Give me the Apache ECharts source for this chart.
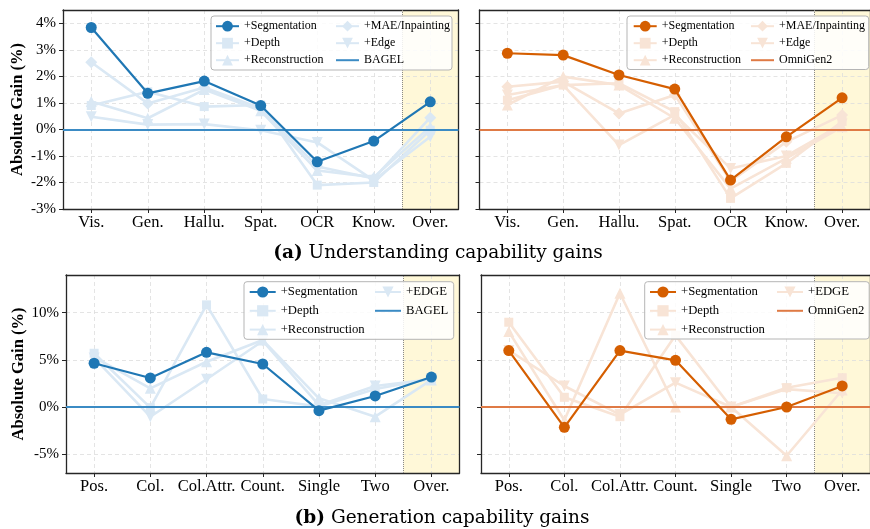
<!DOCTYPE html>
<html><head><meta charset="utf-8">
<script src="https://cdn.jsdelivr.net/npm/echarts@6/dist/echarts.min.js"></script>
<style>html,body{margin:0;padding:0;background:#fff}#c{width:870px;height:529px}</style>
</head><body><div id="c"></div>
<script>
// ---------- data ----------
const undCategories = ['Vis.', 'Gen.', 'Hallu.', 'Spat.', 'OCR', 'Know.', 'Over.'];
const genCategories = ['Pos.', 'Col.', 'Col.Attr.', 'Count.', 'Single', 'Two', 'Over.'];
const undYTicks = [-3, -2, -1, 0, 1, 2, 3, 4];
const genYTicks = [-5, 0, 5, 10];

// BAGEL - understanding
const bagelUndSeg   = [3.84, 1.36, 1.82, 0.90, -1.22, -0.44, 1.04];
const bagelUndDepth = [0.90, 1.42, 0.86, 0.92, -2.10, -2.00, -0.03];
const bagelUndRecon = [1.05, 0.42, 1.50, 0.70, -1.55, -1.80, 0.10];
const bagelUndMae   = [2.53, 0.98, 1.58, 0.80, -1.40, -1.85, 0.44];
const bagelUndEdge  = [0.48, 0.18, 0.20, -0.03, -0.49, -1.92, -0.28];
// OmniGen2 - understanding
const omniUndSeg   = [2.87, 2.80, 2.05, 1.52, -1.91, -0.28, 1.19];
const omniUndDepth = [1.10, 1.67, 1.74, 0.67, -2.60, -1.28, 0.30];
const omniUndRecon = [0.92, 1.99, 1.67, 0.42, -2.23, -1.09, 0.10];
const omniUndMae   = [1.61, 1.80, 0.60, 1.30, -1.95, -0.47, 0.54];
const omniUndEdge  = [1.30, 1.67, -0.59, 0.55, -1.47, -1.00, 0.20];
// BAGEL - generation
const bagelGenSeg   = [4.64, 3.08, 5.80, 4.56, -0.39, 1.17, 3.18];
const bagelGenDepth = [5.70, -0.07, 10.83, 0.85, 0.05, 1.90, 3.00];
const bagelGenRecon = [5.30, 1.98, 4.80, 7.10, 0.92, -1.03, 2.87];
const bagelGenEdge  = [5.20, -1.03, 2.94, 7.00, 0.20, 2.23, 2.95];
// OmniGen2 - generation
const omniGenSeg   = [5.98, -2.16, 5.98, 4.95, -1.31, 0.00, 2.23];
const omniGenDepth = [8.99, 1.03, -1.03, 7.60, 0.00, 2.05, 3.11];
const omniGenRecon = [8.00, -1.40, 12.07, 0.00, 0.00, -5.17, 1.80];
const omniGenEdge  = [6.00, 2.23, -0.80, 2.58, 0.00, 1.90, 1.45];

// ---------- styles ----------
const FONT = 'Liberation Serif';
const CAPFONT = 'DejaVu Serif';
const FRAME = '#262626';
const GRIDC = '#dddddd';
const SHADE = '#fff8d8';
const BLUE = {dark: '#1f77b4', light: '#dae8f4', base: '#3b8bc4'};
const ORANGE = {dark: '#d55e00', light: '#f8e4d6', base: '#df7a45'};

const MARK = {
  '+Segmentation':   {symbol: 'circle',   size: 11, rotate: 0},
  '+Depth':          {symbol: 'rect',     size: 9,  rotate: 0},
  '+Reconstruction': {symbol: 'triangle', size: 11, rotate: 0},
  '+MAE/Inpainting': {symbol: 'diamond',  size: 12, rotate: 0},
  '+Edge':           {symbol: 'triangle', size: 11, rotate: 180},
  '+EDGE':           {symbol: 'triangle', size: 11, rotate: 180}
};

const panels = [
  {grid: {left: 63, top: 10, width: 395.5, height: 199}, cats: undCategories,
   yMin: -3, yMax: 4.5, yInterval: 1, yTicks: undYTicks, yLabels: true, nameGap: 37,
   pal: BLUE, baseName: 'BAGEL',
   lines: [['+Segmentation', bagelUndSeg], ['+Depth', bagelUndDepth], ['+Reconstruction', bagelUndRecon], ['+MAE/Inpainting', bagelUndMae], ['+Edge', bagelUndEdge]],
   cols: [['+Segmentation', '+Depth', '+Reconstruction'], ['+MAE/Inpainting', '+Edge', 'BAGEL']],
   colLeft: [215, 335], legTop: 20.2, fs: 12, ih: 13.5, iw: 23, gap: 5, box: [211, 16, 241, 54]},
  {grid: {left: 479.5, top: 10, width: 395, height: 199}, cats: undCategories,
   yMin: -3, yMax: 4.5, yInterval: 1, yTicks: undYTicks, yLabels: false, nameGap: 37,
   pal: ORANGE, baseName: 'OmniGen2',
   lines: [['+Segmentation', omniUndSeg], ['+Depth', omniUndDepth], ['+Reconstruction', omniUndRecon], ['+MAE/Inpainting', omniUndMae], ['+Edge', omniUndEdge]],
   cols: [['+Segmentation', '+Depth', '+Reconstruction'], ['+MAE/Inpainting', '+Edge', 'OmniGen2']],
   colLeft: [632.7, 750], legTop: 20.2, fs: 12, ih: 13.5, iw: 23, gap: 5, box: [627, 16, 241.7, 53.5]},
  {grid: {left: 66, top: 275, width: 393.5, height: 198}, cats: genCategories,
   yMin: -7, yMax: 14, yInterval: null, yTicks: genYTicks, yLabels: true, nameGap: 39,
   pal: BLUE, baseName: 'BAGEL',
   lines: [['+Segmentation', bagelGenSeg], ['+Depth', bagelGenDepth], ['+Reconstruction', bagelGenRecon], ['+EDGE', bagelGenEdge]],
   cols: [['+Segmentation', '+Depth', '+Reconstruction'], ['+EDGE', 'BAGEL']],
   colLeft: [248.7, 374], legTop: 285.5, fs: 12.7, ih: 14, iw: 26, gap: 5.8, box: [244, 281.7, 209.7, 57.6]},
  {grid: {left: 481, top: 275, width: 393.5, height: 198}, cats: genCategories,
   yMin: -7, yMax: 14, yInterval: null, yTicks: genYTicks, yLabels: false, nameGap: 39,
   pal: ORANGE, baseName: 'OmniGen2',
   lines: [['+Segmentation', omniGenSeg], ['+Depth', omniGenDepth], ['+Reconstruction', omniGenRecon], ['+EDGE', omniGenEdge]],
   cols: [['+Segmentation', '+Depth', '+Reconstruction'], ['+EDGE', 'OmniGen2']],
   colLeft: [649, 776], legTop: 285.5, fs: 12.7, ih: 14, iw: 26, gap: 5.8, box: [644.7, 281.7, 224.5, 57.3]}
];

const option = {animation: false, grid: [], xAxis: [], yAxis: [], series: [], legend: [], graphic: {elements: []}};
const frameLine = {show: true, onZero: false, lineStyle: {color: FRAME, width: 1.3}};
const splitL = {show: true, lineStyle: {color: GRIDC, width: 0.8, type: [4, 3]}};

panels.forEach((p, gi) => {
  const n = p.cats.length;
  const catIdx = p.cats.map((c, i) => i);
  option.grid.push(Object.assign({containLabel: false}, p.grid));
  const xb = {type: 'value', gridIndex: gi, min: -0.5, max: n - 0.5, splitNumber: n};
  option.xAxis.push(Object.assign({}, xb, {
    position: 'bottom', axisLine: frameLine,
    axisTick: {show: true, inside: false, length: 4, lineStyle: {color: FRAME, width: 1}, customValues: catIdx},
    axisLabel: {show: true, margin: 5, color: '#000', fontFamily: FONT, fontSize: 16.5, customValues: catIdx,
      formatter: v => p.cats[Math.round(v)] || ''},
    splitLine: splitL
  }));
  option.xAxis.push(Object.assign({}, xb, {
    position: 'top', axisLine: frameLine, axisTick: {show: false}, axisLabel: {show: false}, splitLine: {show: false}
  }));
  const yb = {type: 'value', gridIndex: gi, min: p.yMin, max: p.yMax};
  if (p.yInterval) yb.interval = p.yInterval; else yb.splitNumber = 4;
  option.yAxis.push(Object.assign({}, yb, {
    position: 'left', axisLine: frameLine,
    axisTick: {show: true, inside: false, length: 4, lineStyle: {color: FRAME, width: 1}, customValues: p.yTicks},
    axisLabel: {show: p.yLabels, margin: 7, color: '#000', fontFamily: FONT, fontSize: 15, customValues: p.yTicks,
      formatter: v => Math.round(v) + '%'},
    splitLine: splitL,
    name: p.yLabels ? 'Absolute Gain (%)' : '', nameLocation: 'middle', nameGap: p.nameGap,
    nameTextStyle: {fontFamily: FONT, fontWeight: 'bold', fontSize: 16.5, color: '#000'}
  }));
  option.yAxis.push(Object.assign({}, yb, {
    position: 'right', axisLine: frameLine, axisTick: {show: false}, axisLabel: {show: false}, splitLine: {show: false}
  }));
  const xi = gi * 2, yi = gi * 2;
  // shaded "Over." band + dotted separator
  option.series.push({
    type: 'line', xAxisIndex: xi, yAxisIndex: yi, data: [], silent: true,
    markArea: {silent: true, z: -1, itemStyle: {color: SHADE}, data: [[{xAxis: n - 1.5}, {xAxis: n - 0.5}]]},
    markLine: {silent: true, z: 1, symbol: ['none', 'none'], label: {show: false},
      lineStyle: {color: '#8a8a8a', type: 'dotted', width: 1}, data: [{xAxis: n - 1.5}]}
  });
  // baseline
  option.series.push({
    name: p.baseName, type: 'line', xAxisIndex: xi, yAxisIndex: yi, data: [], symbol: 'none',
    lineStyle: {color: p.pal.base, width: 2}, itemStyle: {color: p.pal.base},
    markLine: {silent: true, z: 3, symbol: ['none', 'none'], label: {show: false},
      lineStyle: {color: p.pal.base, width: 2, type: 'solid'}, data: [{yAxis: 0}]}
  });
  // data lines
  p.lines.forEach(([name, vals]) => {
    const isDark = name === '+Segmentation';
    const col = isDark ? p.pal.dark : p.pal.light;
    const m = MARK[name];
    option.series.push({
      name, type: 'line', xAxisIndex: xi, yAxisIndex: yi,
      data: vals.map((v, i) => [i, v]),
      symbol: m.symbol, symbolSize: m.size, symbolRotate: m.rotate, showSymbol: true,
      z: isDark ? 4 : 2,
      lineStyle: {color: col, width: isDark ? 2.2 : 2.6},
      itemStyle: {color: col, borderWidth: 0},
      emphasis: {disabled: true}
    });
  });
  // legend box + two columns
  const [bx, by, bw, bh] = p.box;
  option.graphic.elements.push({type: 'rect', z: 100, silent: true,
    shape: {x: bx, y: by, width: bw, height: bh, r: 3},
    style: {fill: 'rgba(255,255,255,0.85)', stroke: '#b5b5b5', lineWidth: 1}});
  const colorOf = nm => nm === p.baseName ? p.pal.base : (nm === '+Segmentation' ? p.pal.dark : p.pal.light);
  p.cols.forEach((names, ci) => {
    option.legend.push({
      show: true, orient: 'vertical', left: p.colLeft[ci], top: p.legTop, padding: 0, z: 200,
      itemWidth: p.iw, itemHeight: p.ih, itemGap: p.gap, selectedMode: false,
      textStyle: {fontFamily: FONT, fontSize: p.fs, color: '#000'},
      data: names.map(nm => nm === p.baseName
        ? {name: nm, itemStyle: {color: 'rgba(0,0,0,0)', borderWidth: 0}, lineStyle: {color: p.pal.base, width: 2}}
        : {name: nm, itemStyle: {color: colorOf(nm)}, lineStyle: {color: colorOf(nm)}})
    });
  });
});

// captions
const CAPSIZE = 18.5;
option.graphic.elements.push({type: 'text', z: 100, x: 438, y: 253, silent: true,
  style: {text: '{b|(a)} Understanding capability gains', fontFamily: CAPFONT, fontSize: CAPSIZE, fill: '#000',
    align: 'center', verticalAlign: 'middle', rich: {b: {fontFamily: CAPFONT, fontSize: CAPSIZE, fontWeight: 'bold'}}}});
option.graphic.elements.push({type: 'text', z: 100, x: 442, y: 518, silent: true,
  style: {text: '{b|(b)} Generation capability gains', fontFamily: CAPFONT, fontSize: CAPSIZE, fill: '#000',
    align: 'center', verticalAlign: 'middle', rich: {b: {fontFamily: CAPFONT, fontSize: CAPSIZE, fontWeight: 'bold'}}}});

const chart = echarts.init(document.getElementById('c'), null, {renderer: 'canvas'});
chart.setOption(option);
</script>
</body></html>
